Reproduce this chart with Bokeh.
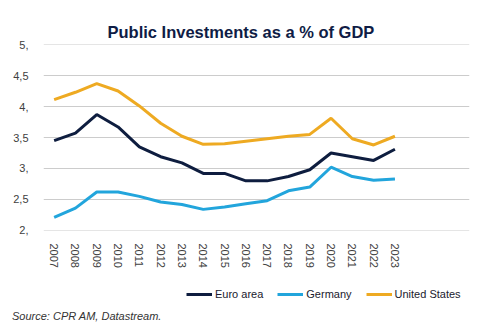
from bokeh.plotting import figure
from bokeh.layouts import column
from bokeh.models import Legend, LegendItem, FixedTicker, Div
from bokeh.embed import file_html
from bokeh.resources import INLINE

years = [str(y) for y in range(2007, 2024)]
euro_area = [3.45, 3.57, 3.87, 3.67, 3.35, 3.19, 3.09, 2.92, 2.92, 2.80, 2.80, 2.87, 2.98, 3.25, 3.19, 3.13, 3.31]
germany = [2.21, 2.36, 2.62, 2.62, 2.55, 2.46, 2.42, 2.34, 2.38, 2.43, 2.48, 2.64, 2.70, 3.02, 2.87, 2.81, 2.83]
united_states = [4.11, 4.23, 4.37, 4.25, 4.01, 3.73, 3.52, 3.39, 3.40, 3.44, 3.48, 3.52, 3.55, 3.81, 3.48, 3.38, 3.52]
series_names = ["Euro area", "Germany", "United States"]
y_ticks = [2, 2.5, 3, 3.5, 4, 4.5, 5]
y_tick_labels = ["2,", "2,5", "3,", "3,5", "4,", "4,5", "5,"]

NAVY = "#0e1d3f"
BLUE = "#22a5dc"
GOLD = "#eeaa22"
COLORS = [NAVY, BLUE, GOLD]
FONT = "Liberation Sans"

x = list(range(len(years)))

p = figure(width=493, height=272, x_range=(-0.5, 19.5), y_range=(1.999, 5.001),
           output_backend="svg", toolbar_location=None,
           min_border_left=43, min_border_right=24, min_border_top=44, min_border_bottom=42)
p.outline_line_color = None
p.background_fill_color = "white"
p.border_fill_color = "white"

p.title.text = "Public Investments as a % of GDP"
p.title.align = "left"
p.title.offset = 64
p.title.text_font = FONT
p.title.text_font_style = "bold"
p.title.text_font_size = "16.5px"
p.title.text_color = "#0f1c45"
p.title.standoff = 8

p.yaxis.ticker = FixedTicker(ticks=y_ticks)
p.yaxis.major_label_overrides = {t: l for t, l in zip(y_ticks, y_tick_labels)}
p.yaxis.axis_line_color = None
p.yaxis.major_tick_line_color = None
p.yaxis.minor_tick_line_color = None
p.yaxis.major_label_standoff = 9
p.yaxis.major_label_text_font = FONT
p.yaxis.major_label_text_font_size = "11px"
p.yaxis.major_label_text_color = "#404040"

p.xaxis.ticker = FixedTicker(ticks=x)
p.xaxis.major_label_overrides = {i: y for i, y in zip(x, years)}
p.xaxis.major_label_orientation = "vertical"
p.xaxis.axis_line_color = None
p.xaxis.major_tick_line_color = None
p.xaxis.minor_tick_line_color = None
p.xaxis.major_label_standoff = 7
p.xaxis.major_label_text_font = FONT
p.xaxis.major_label_text_font_size = "11px"
p.xaxis.major_label_text_color = "#404040"

p.xgrid.grid_line_color = None
p.ygrid.grid_line_color = "#cccccc"
p.ygrid.grid_line_width = 1
p.ygrid.level = "glyph"

for vals, c in zip([euro_area, germany, united_states], COLORS):
    p.line(x, vals, line_color=c, line_width=3, level="annotation")

# legend strip (its frame is aligned with the main plot frame: 43..469)
q = figure(width=493, height=36, x_range=(0, 1), y_range=(0, 1),
           output_backend="svg", toolbar_location=None, min_border=0,
           x_axis_location=None, y_axis_location=None)
q.grid.grid_line_color = None
q.outline_line_color = None
q.background_fill_color = "white"
q.border_fill_color = "white"

items = []
for name, c in zip(series_names, COLORS):
    # legend proxy, placed outside the visible range
    r = q.line([-5, -4], [-5, -4], line_color=c, line_width=3)
    items.append(LegendItem(label=name, renderers=[r]))

legend = Legend(items=items, orientation="horizontal", location=(143, 8),
                padding=0, margin=0, spacing=14, label_standoff=3,
                glyph_width=26, glyph_height=12, label_height=12,
                label_text_font=FONT, label_text_font_size="11px",
                label_text_color="#1a1a2e", background_fill_alpha=0,
                border_line_color=None)
q.add_layout(legend, "center")

source = Div(text="Source: CPR AM, Datastream.", width=493, height=25,
             margin=(0, 0, 0, 0),
             styles={"font-family": FONT, "font-size": "11px", "font-style": "italic",
                     "color": "#333333", "padding-left": "12px", "line-height": "16px",
                     "margin": "0"})

layout = column(p, q, source, spacing=0)
open("out.html", "w").write(file_html(layout, INLINE))
